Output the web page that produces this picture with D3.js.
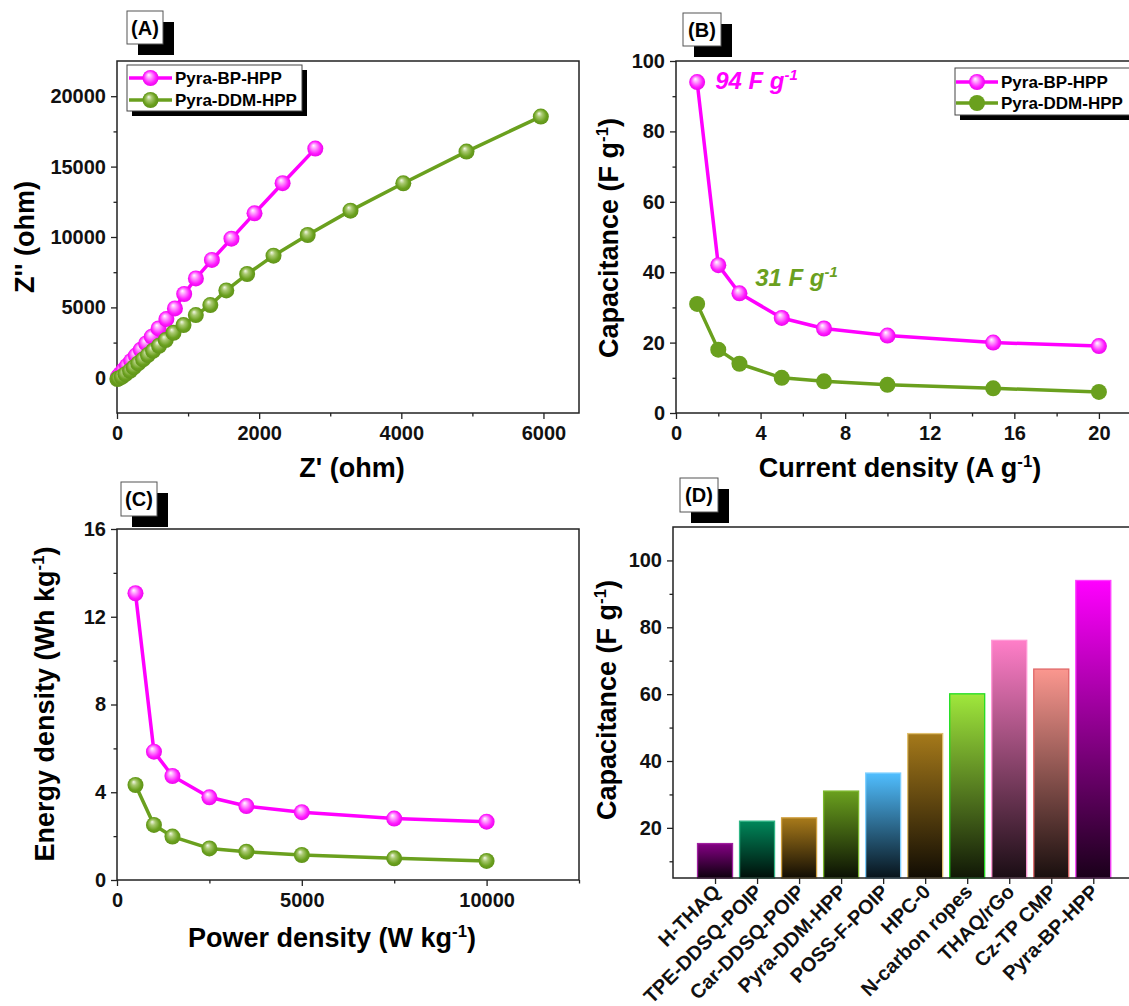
<!DOCTYPE html>
<html>
<head>
<meta charset="utf-8">
<title>Pyra-HPP supercapacitor figure</title>
<script src="https://cdnjs.cloudflare.com/ajax/libs/d3/7.8.5/d3.min.js"></script>
<style>
  body { margin:0; background:#fff; }
  svg { display:block; font-family:"Liberation Sans", Arial, sans-serif; font-weight:bold; }
</style>
</head>
<body>
<svg id="fig" width="1129" height="1006"></svg>
<script>
// ---- data ----
const seriesNames = ["Pyra-BP-HPP", "Pyra-DDM-HPP"];

// (A) Nyquist plot, Z' vs Z''
const eisBpX  = [15, 45, 90, 140, 200, 265, 335, 410, 490, 585, 695, 815, 945, 1110, 1335, 1610, 1935, 2330, 2790];
const eisBpY  = [80, 260, 540, 850, 1200, 1580, 1990, 2440, 2920, 3510, 4170, 4930, 5950, 7060, 8370, 9880, 11680, 13820, 16280];
const eisDdmX = [5, 26, 68, 120, 183, 235, 298, 366, 434, 507, 591, 685, 795, 936, 1109, 1313, 1538, 1831, 2202, 2683, 3285, 4028, 4917, 5963];
const eisDdmY = [-90, -47, 71, 261, 498, 735, 1019, 1303, 1611, 1920, 2275, 2678, 3199, 3744, 4455, 5166, 6209, 7370, 8673, 10142, 11872, 13815, 16066, 18555];

// (B) capacitance vs current density
const currentDensity = [1, 2, 3, 5, 7, 10, 15, 20];
const capBp  = [94, 42, 34, 27, 24, 22, 20, 19];
const capDdm = [31, 18, 14, 10, 9, 8, 7, 6];

// (C) Ragone plot
const powerDensity = [500, 1000, 1500, 2500, 3500, 5000, 7500, 10000];
const energyBp  = [13.07, 5.85, 4.74, 3.77, 3.37, 3.09, 2.80, 2.66];
const energyDdm = [4.33, 2.51, 1.98, 1.44, 1.29, 1.14, 0.99, 0.87];

// (D) comparison with literature
const materials = ["H-THAQ", "TPE-DDSQ-POIP", "Car-DDSQ-POIP", "Pyra-DDM-HPP", "POSS-F-POIP",
                   "HPC-0", "N-carbon ropes", "THAQ/rGo", "Cz-TP CMP", "Pyra-BP-HPP"];
const materialCap = [15.3, 22.0, 23.0, 31.0, 36.4, 48.2, 60.1, 76.1, 67.5, 94.0];

const magenta = "#ff00ff", green = "#6aa01e";
const barTop    = ["#840084", "#00875a", "#a87a1a", "#6aa01e", "#50beff", "#a5791a", "#a0e83c", "#ff7ec8", "#fb978f", "#ff00ff"];
const barStroke = ["#a020a0", "#30b585", "#d0a040", "#7cb82c", "#80d0ff", "#e0c070", "#22dd22", "#ff99d6", "#e06868", "#ff40ff"];

const svg = d3.select("#fig");
svg.append("rect").attr("width", 1129).attr("height", 1006).attr("fill", "#fff");
const defs = svg.append("defs");

// shiny ball markers
function ball(id, stops) {
  const g = defs.append("radialGradient").attr("id", id)
    .attr("cx", 0.5).attr("cy", 0.5).attr("r", 0.55).attr("fx", 0.38).attr("fy", 0.3);
  stops.forEach(s => g.append("stop").attr("offset", s[0]).attr("stop-color", s[1]));
}
ball("ballMag", [[0, "#ffffff"], [0.3, "#ff9cff"], [0.7, "#ff1aff"], [1, "#e600e6"]]);
ball("ballGrn", [[0, "#f4f8ea"], [0.3, "#a9c970"], [0.7, "#6aa01e"], [1, "#5d8f18"]]);

// text with a "-1" superscript, parts = [[text, isSup], ...]
function richText(sel, parts, size) {
  parts.forEach(p => {
    if (p[1]) {
      sel.append("tspan").attr("font-size", size * 0.62).attr("dy", -size * 0.38).text(p[0]);
    } else {
      const t = sel.append("tspan").text(p[0]);
      if (sel.selectAll("tspan").size() > 1) t.attr("dy", size * 0.38);
    }
  });
  return sel;
}

function panelLabel(x, y, w, h, txt) {
  svg.append("rect").attr("x", x + 11).attr("y", y + 11).attr("width", w).attr("height", h).attr("fill", "#000");
  svg.append("rect").attr("x", x).attr("y", y).attr("width", w).attr("height", h)
    .attr("fill", "#fff").attr("stroke", "#555").attr("stroke-width", 1);
  svg.append("text").attr("x", x + w / 2).attr("y", y + h / 2 + 7).attr("text-anchor", "middle")
    .attr("font-size", 20).text(txt);
}

function styleAxis(g) {
  g.select(".domain").remove();
  g.selectAll("line").attr("stroke", "#222").attr("stroke-width", 1.3);
  g.selectAll("text").attr("font-size", 20).attr("font-weight", "bold").attr("fill", "#111")
    .attr("font-family", '"Liberation Sans", Arial, sans-serif');
}

// frame + axes for a panel
function panel(c) {
  const x = d3.scaleLinear().domain(c.xDom).range([c.left, c.right]);
  const y = d3.scaleLinear().domain(c.yDom).range([c.bottom, c.top]);
  const g = svg.append("g");
  g.append("g").attr("transform", `translate(0,${c.bottom})`)
    .call(d3.axisBottom(x).tickValues(c.xMajor).tickSize(6).tickPadding(7).tickFormat(d3.format("d"))).call(styleAxis);
  g.append("g").attr("transform", `translate(0,${c.bottom})`)
    .call(d3.axisBottom(x).tickValues(c.xMinor).tickSize(3.5).tickFormat("")).call(styleAxis);
  g.append("g").attr("transform", `translate(${c.left},0)`)
    .call(d3.axisLeft(y).tickValues(c.yMajor).tickSize(6).tickPadding(5).tickFormat(d3.format("d"))).call(styleAxis);
  g.append("g").attr("transform", `translate(${c.left},0)`)
    .call(d3.axisLeft(y).tickValues(c.yMinor).tickSize(3.5).tickFormat("")).call(styleAxis);
  g.append("rect").attr("x", c.left).attr("y", c.top)
    .attr("width", c.right - c.left).attr("height", c.bottom - c.top)
    .attr("fill", "none").attr("stroke", "#222").attr("stroke-width", 1.5);
  return { g, x, y };
}

function series(p, xs, ys, color, fill) {
  const pts = xs.map((v, i) => [v, ys[i]]);
  p.g.append("path").datum(pts)
    .attr("d", d3.line().x(d => p.x(d[0])).y(d => p.y(d[1])))
    .attr("fill", "none").attr("stroke", color).attr("stroke-width", 3.5).attr("stroke-linejoin", "round");
  p.g.selectAll(null).data(pts).enter().append("circle")
    .attr("cx", d => p.x(d[0])).attr("cy", d => p.y(d[1])).attr("r", 8).attr("fill", fill);
}

function legend(x, y, w, h, rows, lineX1, lineX2, fills) {
  svg.append("rect").attr("x", x + 5).attr("y", y + 5).attr("width", w).attr("height", h).attr("fill", "#000");
  svg.append("rect").attr("x", x).attr("y", y).attr("width", w).attr("height", h)
    .attr("fill", "#fff").attr("stroke", "#444").attr("stroke-width", 1);
  seriesNames.forEach((name, i) => {
    const cy = rows[i], col = i === 0 ? magenta : green;
    svg.append("line").attr("x1", lineX1).attr("x2", lineX2).attr("y1", cy).attr("y2", cy)
      .attr("stroke", col).attr("stroke-width", 3.5);
    svg.append("circle").attr("cx", (lineX1 + lineX2) / 2).attr("cy", cy).attr("r", 8).attr("fill", fills[i]);
    svg.append("text").attr("x", lineX2 + 3).attr("y", cy + 6).attr("font-size", 17).text(name);
  });
}

function axisTitles(p, xParts, xPos, yParts, yPos) {
  richText(svg.append("text").attr("x", xPos[0]).attr("y", xPos[1]).attr("text-anchor", "middle")
    .attr("font-size", 27), xParts, 27);
  richText(svg.append("text").attr("transform", `translate(${yPos[0]},${yPos[1]}) rotate(-90)`)
    .attr("text-anchor", "middle").attr("font-size", 27), yParts, 27);
}

// ---------- (A) ----------
const pA = panel({ left: 117, right: 579, top: 61, bottom: 413,
  xDom: [0, 6500], yDom: [-2500, 22500],
  xMajor: [0, 2000, 4000, 6000], xMinor: [1000, 3000, 5000],
  yMajor: [0, 5000, 10000, 15000, 20000], yMinor: [2500, 7500, 12500, 17500] });
series(pA, eisBpX, eisBpY, magenta, "url(#ballMag)");
series(pA, eisDdmX, eisDdmY, green, "url(#ballGrn)");
legend(127, 65, 175, 46, [78, 100], 129, 172, ["url(#ballMag)", "url(#ballGrn)"]);
axisTitles(pA, [["Z' (ohm)", false]], [352, 477], [["Z'' (ohm)", false]], [34, 237]);
panelLabel(127, 11, 36, 33, "(A)");

// ---------- (B) ----------
const pB = panel({ left: 676, right: 1130, top: 61, bottom: 413,
  xDom: [0, 21.47], yDom: [0, 100],
  xMajor: [0, 4, 8, 12, 16, 20], xMinor: [2, 6, 10, 14, 18],
  yMajor: [0, 20, 40, 60, 80, 100], yMinor: [10, 30, 50, 70, 90] });
series(pB, currentDensity, capBp, magenta, "url(#ballMag)");
series(pB, currentDensity, capDdm, green, green);
legend(955, 68, 175, 47, [82, 103], 956, 998, ["url(#ballMag)", green]);
axisTitles(pB, [["Current density (A g", false], ["-1", true], [")", false]], [900, 477],
  [["Capacitance (F g", false], ["-1", true], [")", false]], [618, 238]);
richText(svg.append("text").attr("x", pB.x(1) + 18).attr("y", 89).attr("font-size", 24)
  .attr("font-style", "italic").attr("fill", magenta), [["94 F g", false], ["-1", true]], 24);
richText(svg.append("text").attr("x", pB.x(1) + 58).attr("y", 286).attr("font-size", 24)
  .attr("font-style", "italic").attr("fill", green), [["31 F g", false], ["-1", true]], 24);
panelLabel(683, 13, 38, 33, "(B)");

// ---------- (C) ----------
const pC = panel({ left: 117, right: 579, top: 529, bottom: 880,
  xDom: [0, 12500], yDom: [0, 16],
  xMajor: [0, 5000, 10000], xMinor: [2500, 7500, 12500],
  yMajor: [0, 4, 8, 12, 16], yMinor: [2, 6, 10, 14] });
series(pC, powerDensity, energyBp, magenta, "url(#ballMag)");
series(pC, powerDensity, energyDdm, green, "url(#ballGrn)");
axisTitles(pC, [["Power density (W kg", false], ["-1", true], [")", false]], [332, 947],
  [["Energy density (Wh kg", false], ["-1", true], [")", false]], [54, 704]);
panelLabel(121, 482, 36, 34, "(C)");

// ---------- (D) ----------
const dLeft = 673, dRight = 1129, dTop = 527, dBottom = 878;
const xD = d3.scaleLinear().domain([0, 10.85]).range([dLeft, dRight]);
const yD = d3.scaleLinear().domain([5, 110]).range([dBottom, dTop]);
const gD = svg.append("g");
materials.forEach((m, i) => {
  const gr = defs.append("linearGradient").attr("id", "bar" + i)
    .attr("x1", 0).attr("y1", 0).attr("x2", 0).attr("y2", 1);
  gr.append("stop").attr("offset", 0).attr("stop-color", barTop[i]);
  gr.append("stop").attr("offset", 1).attr("stop-color", d3.interpolateRgb(barTop[i], "#000")(0.9));
});
gD.selectAll("rect.bar").data(materialCap).enter().append("rect").attr("class", "bar")
  .attr("x", (d, i) => xD(i + 1) - 17.5).attr("width", 35)
  .attr("y", d => yD(d)).attr("height", d => yD(5) - yD(d))
  .attr("fill", (d, i) => `url(#bar${i})`).attr("stroke", (d, i) => barStroke[i]).attr("stroke-width", 1.3);
const xAxisD = gD.append("g").attr("transform", `translate(0,${dBottom})`)
  .call(d3.axisBottom(xD).tickValues(d3.range(1, materials.length + 1)).tickSize(6)
    .tickFormat(i => materials[i - 1])).call(styleAxis);
xAxisD.selectAll("text").attr("font-size", 20).attr("text-anchor", "end")
  .attr("x", 0).attr("y", 0).attr("dy", 0)
  .attr("transform", "translate(6,15) rotate(-45)");
gD.append("g").attr("transform", `translate(${dLeft},0)`)
  .call(d3.axisLeft(yD).tickValues([20, 40, 60, 80, 100]).tickSize(6).tickPadding(5)).call(styleAxis);
gD.append("g").attr("transform", `translate(${dLeft},0)`)
  .call(d3.axisLeft(yD).tickValues([10, 30, 50, 70, 90]).tickSize(3.5).tickFormat("")).call(styleAxis);
gD.append("rect").attr("x", dLeft).attr("y", dTop).attr("width", dRight - dLeft + 2).attr("height", dBottom - dTop)
  .attr("fill", "none").attr("stroke", "#222").attr("stroke-width", 1.5);
richText(svg.append("text").attr("transform", `translate(616,700) rotate(-90)`)
  .attr("text-anchor", "middle").attr("font-size", 27), [["Capacitance (F g", false], ["-1", true], [")", false]], 27);
panelLabel(680, 478, 38, 34, "(D)");
</script>
</body>
</html>
